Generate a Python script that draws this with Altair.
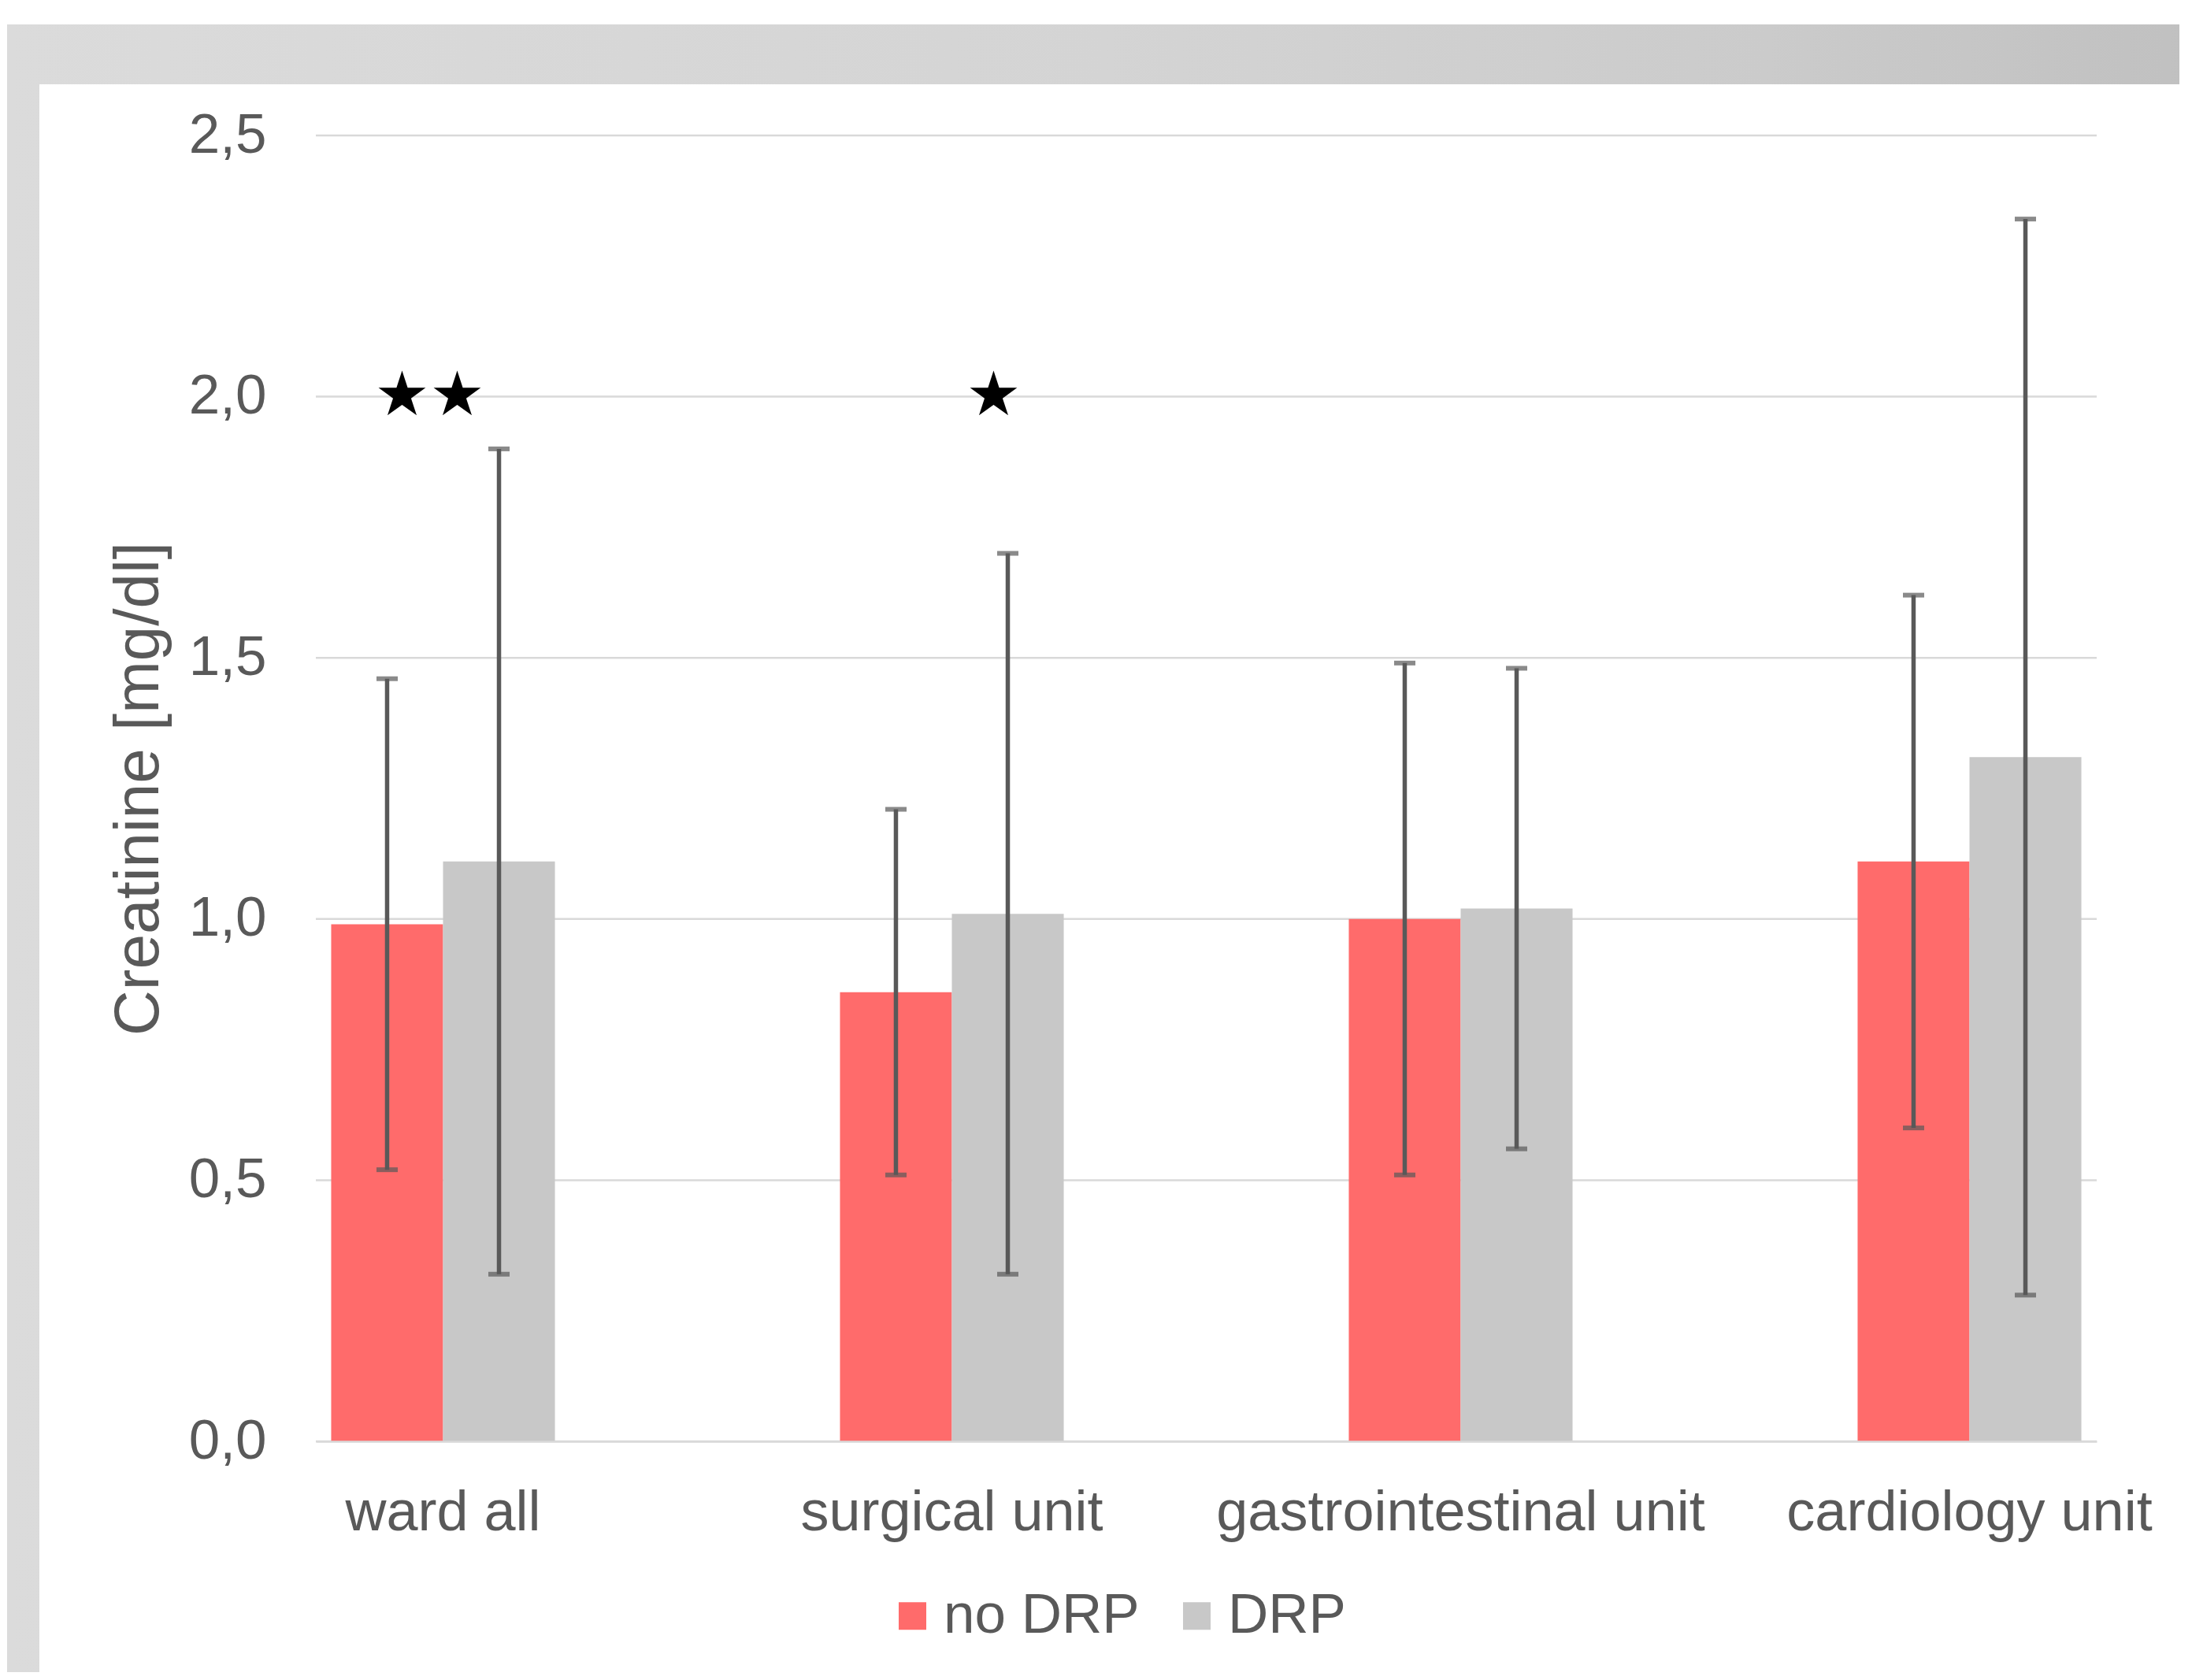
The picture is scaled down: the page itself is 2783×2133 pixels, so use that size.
import altair as alt
import pandas as pd

# ---- data ----
categories = ["ward all", "surgical unit", "gastrointestinal unit", "cardiology unit"]
groups = ["no DRP", "DRP"]
mean_no_drp = [0.99, 0.86, 1.00, 1.11]
mean_drp = [1.11, 1.01, 1.02, 1.31]
sd_no_drp = [0.47, 0.35, 0.49, 0.51]
sd_drp = [0.79, 0.69, 0.46, 1.03]
y_ticks = [0.0, 0.5, 1.0, 1.5, 2.0, 2.5]
star_categories = ["ward all", "surgical unit"]
star_texts = ["★★", "★"]
star_level = 2.0
bar_colors = ["#FF6B6B", "#C8C8C8"]

rows = []
for i, c in enumerate(categories):
    rows.append({"category": c, "group": "no DRP", "mean": mean_no_drp[i], "sd": sd_no_drp[i]})
    rows.append({"category": c, "group": "DRP", "mean": mean_drp[i], "sd": sd_drp[i]})
df = pd.DataFrame(rows)
df["lo"] = df["mean"] - df["sd"]
df["hi"] = df["mean"] + df["sd"]

stars = pd.DataFrame({"category": star_categories, "text": star_texts, "level": [star_level] * len(star_categories)})
grid_df = pd.DataFrame({"v": y_ticks})

W, H = 2261, 1658
FONT = "Liberation Sans"
TXT = "#595959"

x_scale = alt.Scale(domain=categories, paddingInner=0.5, paddingOuter=0)
xo_scale = alt.Scale(domain=groups, paddingInner=0, paddingOuter=0.137)
y_scale = alt.Scale(domain=[0, 2.5], nice=False, zero=True)

x_axis = alt.Axis(title=None, labelAngle=0, labelFont=FONT, labelFontSize=72, labelColor=TXT,
                  labelLimit=0, ticks=False, tickSize=0, labelPadding=55, domainColor="#d9d9d9",
                  domainWidth=2.5, grid=False, zindex=1)
y_axis = alt.Axis(values=y_ticks, labelExpr="replace(format(datum.value, '.1f'), '.', ',')",
                  grid=False, domain=False, ticks=False, tickSize=0, labelPadding=63,
                  labelFont=FONT, labelFontSize=71, labelColor=TXT,
                  title="Creatinine [mg/dl]", titleFont=FONT, titleFontSize=80,
                  titleFontWeight="normal", titleColor=TXT, titlePadding=22, zindex=1)

x_enc = alt.X("category:N", scale=x_scale, sort=categories, axis=x_axis)
xo_enc = alt.XOffset("group:N", scale=xo_scale, sort=groups)

gradient = alt.Gradient(
    gradient="linear",
    stops=[alt.GradientStop(offset=0, color="#dbdbdb"),
           alt.GradientStop(offset=0.5, color="#d4d4d4"),
           alt.GradientStop(offset=0.8, color="#cbcbcb"),
           alt.GradientStop(offset=1, color="#c0c0c0")],
    x1=0, x2=1, y1=0, y2=0,
)

one = alt.Data(values=[{"k": 0}])
frame = alt.Chart(one).mark_rect(color=gradient).encode(
    x=alt.value(-392), x2=alt.value(2400), y=alt.value(-141), y2=alt.value(2000))
panel = alt.Chart(one).mark_rect(color="white").encode(
    x=alt.value(-351), x2=alt.value(2367), y=alt.value(-65), y2=alt.value(2000))

grid = alt.Chart(grid_df).mark_rule(color="#d9d9d9", strokeWidth=2.5).encode(
    y=alt.Y("v:Q", scale=y_scale, axis=y_axis))

bars = alt.Chart(df).mark_bar().encode(
    x=x_enc, xOffset=xo_enc,
    y=alt.Y("mean:Q", scale=y_scale, axis=y_axis),
    color=alt.Color("group:N", sort=groups,
                    scale=alt.Scale(domain=groups, range=bar_colors),
                    legend=alt.Legend(orient="none", legendX=722, legendY=1844, direction="horizontal",
                                      title=None, symbolType="square", symbolSize=1225,
                                      symbolStrokeWidth=0, labelFont=FONT, labelFontSize=71,
                                      labelColor=TXT, labelLimit=0, labelOffset=4,
                                      columnPadding=37, padding=0)),
)

whisk = alt.Chart(df).mark_rule(color="#595959", strokeWidth=5.5).encode(
    x=x_enc, xOffset=xo_enc,
    y=alt.Y("lo:Q", scale=y_scale, axis=y_axis), y2="hi:Q")
cap_hi = alt.Chart(df).mark_tick(color="#595959", orient="horizontal", size=27, thickness=6).encode(
    x=x_enc, xOffset=xo_enc, y=alt.Y("hi:Q", scale=y_scale, axis=y_axis))
cap_lo = alt.Chart(df).mark_tick(color="#595959", orient="horizontal", size=27, thickness=6).encode(
    x=x_enc, xOffset=xo_enc, y=alt.Y("lo:Q", scale=y_scale, axis=y_axis))

star_base = alt.Chart(stars)
star1 = star_base.transform_filter(alt.datum.category == star_categories[0]).mark_text(
    font="DejaVu Sans", fontSize=78, color="black", dx=-17, baseline="middle").encode(
    x=x_enc, y=alt.Y("level:Q", scale=y_scale, axis=y_axis), text="text:N")
star2 = star_base.transform_filter(alt.datum.category == star_categories[1]).mark_text(
    font="DejaVu Sans", fontSize=78, color="black", dx=53, baseline="middle").encode(
    x=x_enc, y=alt.Y("level:Q", scale=y_scale, axis=y_axis), text="text:N")

chart = alt.layer(frame, panel, grid, bars, whisk, cap_hi, cap_lo, star1, star2).properties(
    width=W, height=H,
    padding={"left": 393, "top": 164, "right": 105, "bottom": 293},
    autosize=alt.AutoSizeParams(type="none"),
).configure_view(stroke=None)

chart.save("out.html", embed_options={"renderer": "svg", "actions": False})
